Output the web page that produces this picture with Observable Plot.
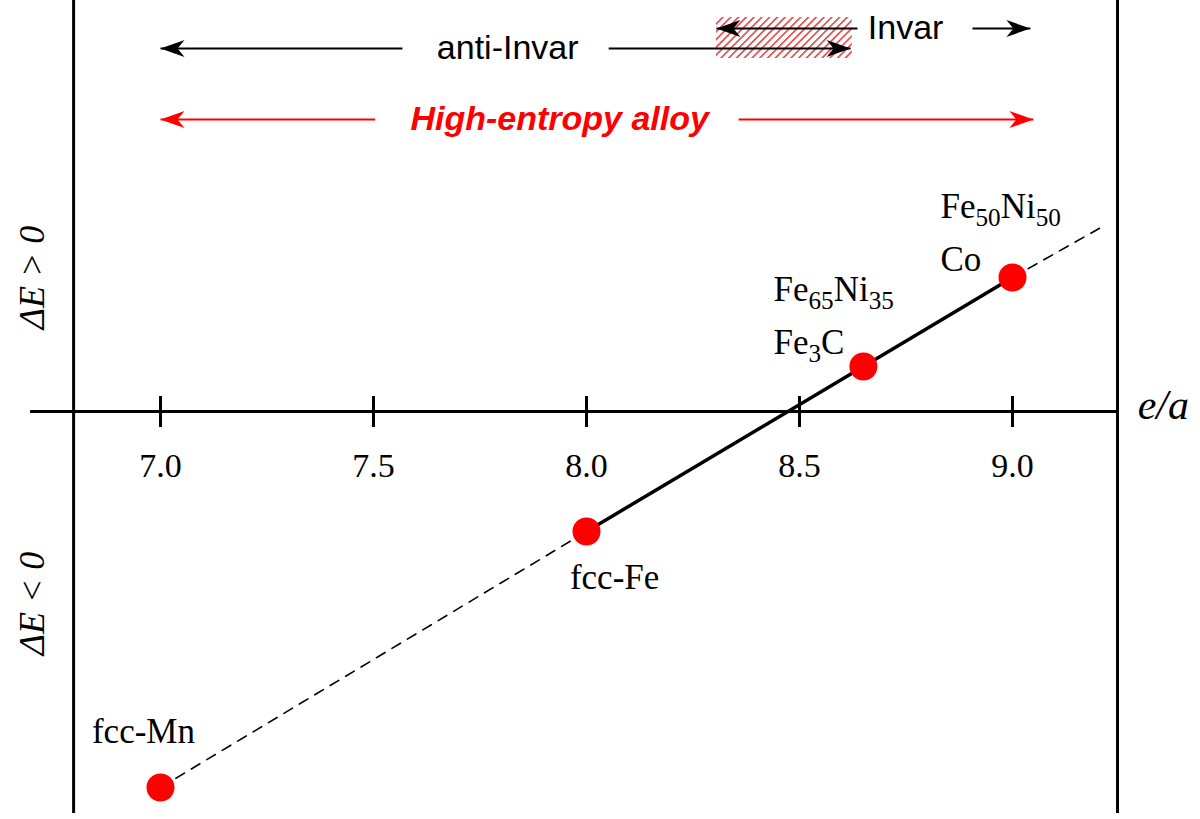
<!DOCTYPE html>
<html>
<head>
<meta charset="utf-8">
<script src="https://cdn.jsdelivr.net/npm/d3@7"></script>
<script src="https://cdn.jsdelivr.net/npm/@observablehq/plot@0.6"></script>
<style>
  html, body { margin: 0; padding: 0; background: #fff; }
  #chart svg { display: block; }
</style>
</head>
<body>
<div id="chart"></div>
<script>
// ---- data ----
const materials = ["fcc-Mn", "fcc-Fe", "Fe65Ni35 / Fe3C", "Fe50Ni50 / Co"];
const eA = [7.0, 8.0, 8.65, 9.0];          // electrons per atom
const dE = [-3.76, -1.20, 0.45, 1.34];     // ΔE (schematic units)
const extEA = 9.22, extDE = 1.87;          // dashed extrapolation end

const tickValues = [7.0, 7.5, 8.0, 8.5, 9.0];
const tickLabels = ["7.0", "7.5", "8.0", "8.5", "9.0"];

const labelText = ["fcc-Mn", "fcc-Fe", "Fe_65Ni_35", "Fe_3C", "Fe_50Ni_50", "Co"];
const labelX = [6.96, 8.066, 8.439, 8.439, 8.831, 8.831];
const labelY = [-3.20, -1.66, 1.22, 0.69, 2.05, 1.52];
const labelAnchor = ["middle", "middle", "start", "start", "start", "start"];

// top annotation arrows: [from, to] in e/a
const antiInvarArrows = [[7.568, 7.0], [8.052, 8.620]];
const invarArrows = [[8.636, 8.305], [8.906, 9.042]];
const heaArrows = [[7.504, 7.0], [8.357, 9.049]];
const invarBox = {x1: 8.305, x2: 8.624, y1: 3.53, y2: 3.94};

const SERIF = "Liberation Serif, Times New Roman, serif";
const SANS = "Liberation Sans, Arial, sans-serif";
const RED = "#ff0000";

// concave filled arrowhead pointing to +x, tip at origin
const headSymbol = {
  draw(ctx) {
    ctx.moveTo(0, 0);
    ctx.lineTo(-24, -8.5);
    ctx.lineTo(-17, 0);
    ctx.lineTo(-24, 8.5);
    ctx.closePath();
  }
};

function arrowMarks(pairs, y, color) {
  return [
    Plot.link(pairs, {x1: d => d[0], x2: d => d[1], y1: y, y2: y, stroke: color, strokeWidth: 2}),
    Plot.dot(pairs, {x: d => d[1], y: y, symbol: headSymbol, fill: color, stroke: "none",
      rotate: d => (d[1] < d[0] ? 180 : 0)})
  ];
}

const idx = d3.range(eA.length);
const solidIdx = [1, 2, 3];

const chart = Plot.plot({
  width: 1200,
  height: 819,
  marginTop: 0, marginRight: 0, marginBottom: 0, marginLeft: 0,
  x: {domain: [6.6244, 9.4413], axis: null},
  y: {domain: [-4.08, 4.11], axis: null},
  style: {background: "#fff", overflow: "visible"},
  marks: [
    // frame verticals
    Plot.ruleX([6.796, 9.2465], {y1: -4.02, y2: 4.11, stroke: "#000", strokeWidth: 3}),
    // horizontal axis
    Plot.ruleY([0], {x1: 6.695, x2: 9.2465, stroke: "#000", strokeWidth: 3}),
    Plot.ruleX(tickValues, {y1: -0.16, y2: 0.15, stroke: "#000", strokeWidth: 3}),
    Plot.text(tickValues, {x: d => d, y: -0.55, text: (d, i) => tickLabels[i],
      fontFamily: SERIF, fontSize: 34, fill: "#000"}),
    Plot.text(["e/a"], {x: 9.354, y: 0.06, fontFamily: SERIF, fontStyle: "italic", fontSize: 42, fill: "#000"}),
    Plot.text(["ΔE > 0"], {x: 6.699, y: 1.34, rotate: -90, fontFamily: SERIF, fontStyle: "italic", fontSize: 36, fill: "#000"}),
    Plot.text(["ΔE < 0"], {x: 6.699, y: -1.92, rotate: -90, fontFamily: SERIF, fontStyle: "italic", fontSize: 36, fill: "#000"}),

    // hatched Invar box
    Plot.rect([invarBox], {x1: "x1", x2: "x2", y1: "y1", y2: "y2", fill: "url(#invarHatch)"}),

    // annotation arrows
    ...arrowMarks(antiInvarArrows, 3.63, "#000"),
    ...arrowMarks(invarArrows, 3.83, "#000"),
    ...arrowMarks(heaArrows, 2.92, RED),
    Plot.text(["anti-Invar"], {x: 7.815, y: 3.63, fontFamily: SANS, fontSize: 34, fill: "#000"}),
    Plot.text(["Invar"], {x: 8.749, y: 3.83, fontFamily: SANS, fontSize: 34, fill: "#000"}),
    Plot.text(["High-entropy alloy"], {x: 7.937, y: 2.92, fontFamily: SANS, fontSize: 34,
      fontWeight: "bold", fontStyle: "italic", fill: RED}),

    // trend line: dashed extrapolations and solid measured range
    Plot.line([0, 1], {x: i => eA[i], y: i => dE[i], stroke: "#000", strokeWidth: 1.6, strokeDasharray: "10,8"}),
    Plot.line([[eA[3], dE[3]], [extEA, extDE]], {x: d => d[0], y: d => d[1], stroke: "#000", strokeWidth: 1.6, strokeDasharray: "10,8"}),
    Plot.line(solidIdx, {x: i => eA[i], y: i => dE[i], stroke: "#000", strokeWidth: 3.5}),
    Plot.dot(idx, {x: i => eA[i], y: i => dE[i], r: 14, fill: RED, stroke: "none", title: i => materials[i]}),

    // point labels
    Plot.text(d3.range(labelText.length).filter(i => labelAnchor[i] === "middle"),
      {x: i => labelX[i], y: i => labelY[i], text: i => labelText[i], fontFamily: SERIF, fontSize: 35, fill: "#000"}),
    Plot.text(d3.range(labelText.length).filter(i => labelAnchor[i] === "start"),
      {x: i => labelX[i], y: i => labelY[i], text: i => labelText[i], textAnchor: "start", fontFamily: SERIF, fontSize: 35, fill: "#000"})
  ]
});

// hatch pattern definition
const svg = d3.select(chart);
const defs = svg.insert("defs", ":first-child");
const pat = defs.append("pattern")
  .attr("id", "invarHatch")
  .attr("patternUnits", "userSpaceOnUse")
  .attr("width", 5.5).attr("height", 5.5)
  .attr("patternTransform", "rotate(45)");
pat.append("line").attr("x1", 0.8).attr("y1", 0).attr("x2", 0.8).attr("y2", 5.5)
  .attr("stroke", "#d42a2a").attr("stroke-width", 1.4);

// subscripts written as _NN
svg.selectAll("text").each(function () {
  const s = this.textContent;
  if (!s.includes("_")) return;
  const parts = s.split(/_(\d+)/);
  const t = d3.select(this);
  t.text(null);
  let shifted = false;
  parts.forEach((p, i) => {
    if (!p) return;
    const sp = t.append("tspan").text(p);
    if (i % 2) {
      sp.attr("font-size", "0.72em").attr("dy", shifted ? 0 : 8);
      shifted = true;
    } else {
      if (shifted) { sp.attr("dy", -8); shifted = false; }
    }
  });
});

document.getElementById("chart").appendChild(chart);
</script>
</body>
</html>
